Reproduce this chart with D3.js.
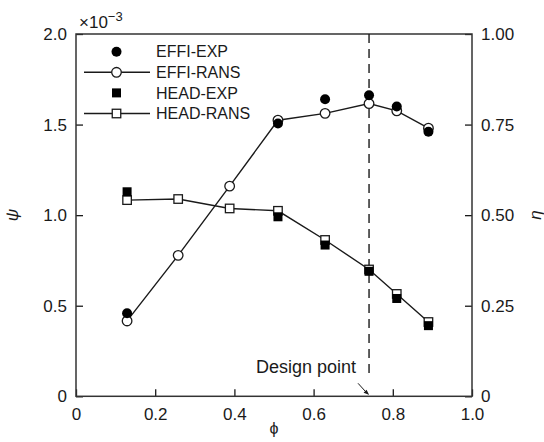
<!DOCTYPE html>
<html>
<head>
<meta charset="utf-8">
<script src="https://cdn.jsdelivr.net/npm/d3@7"></script>
<style>
  body { margin: 0; background: #fff; }
  svg { display: block; font-family: "Liberation Sans", Arial, sans-serif; }
</style>
</head>
<body>
<div id="chart"></div>
<script>
// flow coefficient at each computed/measured point
const phi = [0.129, 0.258, 0.388, 0.51, 0.629, 0.74, 0.81, 0.89];
// efficiency (right axis)
const effiExp = [0.229, null, null, 0.753, 0.82, 0.831, 0.80, 0.73];
const effiRans = [0.208, 0.389, 0.58, 0.762, 0.781, 0.808, 0.788, 0.74];
// head coefficient, x10^-3 (left axis)
const headExp = [1.129, null, null, 0.991, 0.835, 0.69, 0.54, 0.39];
const headRans = [1.083, 1.089, 1.037, 1.024, 0.863, 0.70, 0.565, 0.41];

const designPhi = 0.74;

const xTicks = [0, 0.2, 0.4, 0.6, 0.8, 1.0];
const psiTicks = [0, 0.5, 1.0, 1.5, 2.0];
const etaTicks = [0, 0.25, 0.5, 0.75, 1.0];

const legendNames = ["EFFI-EXP", "EFFI-RANS", "HEAD-EXP", "HEAD-RANS"];

const W = 544, H = 442;
const m = { left: 76, right: 472, top: 34, bottom: 396.3 };
const ink = "#1a1a1a";

const svg = d3.select("#chart").append("svg")
    .attr("width", W).attr("height", H)
    .attr("viewBox", [0, 0, W, H]);

const x = d3.scaleLinear().domain([0, 1]).range([m.left, m.right]);
const yPsi = d3.scaleLinear().domain([0, 2]).range([m.bottom, m.top]);
const yEta = d3.scaleLinear().domain([0, 1]).range([m.bottom, m.top]);

const fmt = f => d => d === 0 ? "0" : d3.format(f)(d);

function styleAxis(g) {
    g.select(".domain").remove();
    g.selectAll(".tick line").attr("stroke", ink).attr("stroke-width", 1.3);
    g.selectAll(".tick text").attr("fill", ink).attr("font-size", 17)
        .attr("font-family", "Liberation Sans, Arial, sans-serif");
}

svg.append("g")
    .attr("transform", `translate(0,${m.bottom})`)
    .call(d3.axisBottom(x).tickValues(xTicks).tickFormat(fmt(".1f")).tickSize(-7).tickPadding(12))
    .call(styleAxis);

svg.append("g")
    .attr("transform", `translate(${m.left},0)`)
    .call(d3.axisLeft(yPsi).tickValues(psiTicks).tickFormat(fmt(".1f")).tickSize(-7).tickPadding(9))
    .call(styleAxis);

svg.append("g")
    .attr("transform", `translate(${m.right},0)`)
    .call(d3.axisRight(yEta).tickValues(etaTicks).tickFormat(fmt(".2f")).tickSize(-7).tickPadding(9))
    .call(styleAxis);

// frame
svg.append("rect")
    .attr("x", m.left).attr("y", m.top)
    .attr("width", m.right - m.left).attr("height", m.bottom - m.top)
    .attr("fill", "none").attr("stroke", "#333").attr("stroke-width", 1.5);

// axis titles
svg.append("text")
    .attr("transform", `translate(18,215) rotate(-90)`)
    .attr("text-anchor", "middle").attr("font-size", 17).attr("font-style", "italic")
    .attr("fill", ink).text("ψ");
svg.append("text")
    .attr("transform", `translate(541,215) rotate(-90)`)
    .attr("text-anchor", "middle").attr("font-size", 17).attr("font-style", "italic")
    .attr("fill", ink).text("η");
svg.append("text")
    .attr("x", x(0.5)).attr("y", 434)
    .attr("text-anchor", "middle").attr("font-size", 16)
    .attr("fill", ink).text("ϕ");

const mult = svg.append("text").attr("x", 79).attr("y", 28)
    .attr("font-size", 17).attr("fill", ink);
mult.append("tspan").text("×10");
mult.append("tspan").attr("dy", -7).attr("font-size", 13).text("−3");

// design point
svg.append("line")
    .attr("x1", x(designPhi)).attr("x2", x(designPhi))
    .attr("y1", m.top).attr("y2", yPsi(0.12))
    .attr("stroke", ink).attr("stroke-width", 1.4).attr("stroke-dasharray", "9,6");
svg.append("line")
    .attr("x1", x(designPhi) - 11).attr("y1", m.bottom - 13)
    .attr("x2", x(designPhi) - 1).attr("y2", m.bottom - 2)
    .attr("stroke", ink).attr("stroke-width", 1);
svg.append("path")
    .attr("d", `M${x(designPhi)},${m.bottom - 1.5} l-5.5,-2 l3,-3 z`)
    .attr("fill", ink);
svg.append("text")
    .attr("x", 306).attr("y", 373)
    .attr("text-anchor", "middle").attr("font-size", 18)
    .attr("fill", ink).text("Design point");

const zip = (vals) => phi.map((p, i) => [p, vals[i]]).filter(d => d[1] != null);

const lineEta = d3.line().x(d => x(d[0])).y(d => yEta(d[1]));
const linePsi = d3.line().x(d => x(d[0])).y(d => yPsi(d[1]));

svg.append("path").attr("d", lineEta(zip(effiRans)))
    .attr("fill", "none").attr("stroke", ink).attr("stroke-width", 1.4);
svg.append("path").attr("d", linePsi(zip(headRans)))
    .attr("fill", "none").attr("stroke", ink).attr("stroke-width", 1.4);

const sq = 8.5, r = 4.8;

function openCircle(g, cx, cy) {
    g.append("circle").attr("cx", cx).attr("cy", cy).attr("r", r)
        .attr("fill", "#fff").attr("stroke", ink).attr("stroke-width", 1.3);
}
function filledCircle(g, cx, cy) {
    g.append("circle").attr("cx", cx).attr("cy", cy).attr("r", 5)
        .attr("fill", "#000");
}
function openSquare(g, cx, cy) {
    g.append("rect").attr("x", cx - sq / 2).attr("y", cy - sq / 2)
        .attr("width", sq).attr("height", sq)
        .attr("fill", "#fff").attr("stroke", ink).attr("stroke-width", 1.3);
}
function filledSquare(g, cx, cy) {
    g.append("rect").attr("x", cx - 4.5).attr("y", cy - 4.5)
        .attr("width", 9).attr("height", 9).attr("fill", "#000");
}

const marks = svg.append("g");
zip(effiRans).forEach(d => openCircle(marks, x(d[0]), yEta(d[1])));
zip(headRans).forEach(d => openSquare(marks, x(d[0]), yPsi(d[1])));
zip(effiExp).forEach(d => filledCircle(marks, x(d[0]), yEta(d[1])));
zip(headExp).forEach(d => filledSquare(marks, x(d[0]), yPsi(d[1])));

// legend
const legend = svg.append("g");
const drawers = [filledCircle, openCircle, filledSquare, openSquare];
legendNames.forEach((name, i) => {
    const ly = 51.7 + i * 20.6;
    if (i % 2 === 1) {
        legend.append("line").attr("x1", 84).attr("x2", 150)
            .attr("y1", ly).attr("y2", ly)
            .attr("stroke", ink).attr("stroke-width", 1.4);
    }
    drawers[i](legend, 116.5, ly);
    legend.append("text").attr("x", 156).attr("y", ly).attr("dy", "0.36em")
        .attr("font-size", 16).attr("fill", ink).text(name);
});
</script>
</body>
</html>
